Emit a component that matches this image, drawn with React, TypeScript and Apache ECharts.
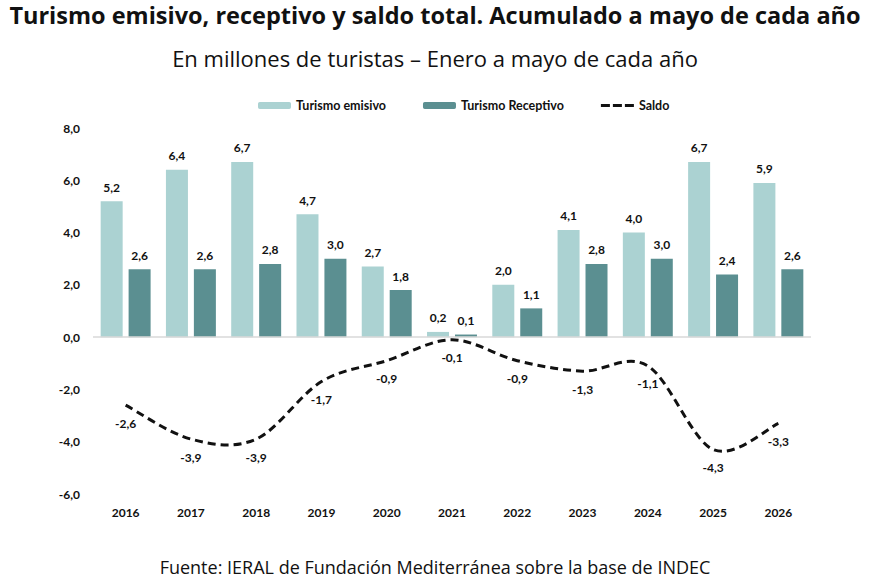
import React, { useEffect, useRef } from "react";
import * as echarts from "echarts";

const years = ["2016", "2017", "2018", "2019", "2020", "2021", "2022", "2023", "2024", "2025", "2026"];
const emisivo = [5.2, 6.4, 6.7, 4.7, 2.7, 0.2, 2.0, 4.1, 4.0, 6.7, 5.9];
const receptivo = [2.6, 2.6, 2.8, 3.0, 1.8, 0.1, 1.1, 2.8, 3.0, 2.4, 2.6];
const saldo = [-2.6, -3.9, -3.9, -1.7, -0.9, -0.1, -0.9, -1.3, -1.1, -4.3, -3.3];

const fmt = (v: number) => v.toFixed(1).replace(".", ",");
const chartFont = "Lato, 'Open Sans', sans-serif";
const titleFont = "'Open Sans', 'Noto Sans', sans-serif";

// Catmull-Rom spline through the projected points, written as cubic Bezier segments
function splinePath(pts: number[][]): string {
  let d = `M${pts[0][0]},${pts[0][1]}`;
  for (let i = 0; i < pts.length - 1; i++) {
    const p0 = pts[i - 1] || pts[i];
    const p1 = pts[i];
    const p2 = pts[i + 1];
    const p3 = pts[i + 2] || pts[i + 1];
    const c1x = p1[0] + (p2[0] - p0[0]) / 6;
    const c1y = p1[1] + (p2[1] - p0[1]) / 6;
    const c2x = p2[0] - (p3[0] - p1[0]) / 6;
    const c2y = p2[1] - (p3[1] - p1[1]) / 6;
    d += ` C${c1x},${c1y} ${c2x},${c2y} ${p2[0]},${p2[1]}`;
  }
  return d;
}

export default function App() {
  const ref = useRef<HTMLDivElement>(null);

  useEffect(() => {
    if (!ref.current) return;
    const chart = echarts.init(ref.current, undefined, { renderer: "svg" });
    const barLabel = {
      show: true,
      position: "top",
      distance: 8,
      fontWeight: "bold",
      fontSize: 12,
      color: "#111",
      formatter: (p: any) => fmt(p.value),
    };
    chart.setOption({
      animation: false,
      backgroundColor: "#ffffff",
      textStyle: { fontFamily: chartFont },
      title: [
        {
          text: "Turismo emisivo, receptivo y saldo total. Acumulado a mayo de cada año",
          left: "center",
          top: -2,
          textStyle: { fontFamily: titleFont, fontWeight: "bold", fontSize: 23.5, color: "#111" },
        },
        {
          text: "En millones de turistas – Enero a mayo de cada año",
          left: "center",
          top: 42,
          textStyle: { fontFamily: titleFont, fontWeight: "normal", fontSize: 22, color: "#111" },
        },
        {
          text: "Fuente: IERAL de Fundación Mediterránea sobre la base de INDEC",
          left: "center",
          top: 553,
          textStyle: { fontFamily: titleFont, fontWeight: "normal", fontSize: 18, color: "#111" },
        },
      ],
      legend: {
        left: 253,
        top: 94,
        itemWidth: 33,
        itemHeight: 7,
        itemGap: 37,
        textStyle: { fontFamily: chartFont, fontWeight: "bold", fontSize: 12.5, color: "#111" },
        data: [
          { name: "Turismo emisivo" },
          { name: "Turismo Receptivo" },
          {
            name: "Saldo",
            icon: "path://M0,0L0.01,0L0,7Z M0,2h9v3h-9z M12,2h9v3h-9z M24,2h9v3h-9z",
            itemStyle: { color: "#111" },
          },
        ],
      },
      grid: { left: 93, right: 59, top: 128, bottom: 86 },
      xAxis: {
        type: "category",
        data: years,
        axisLine: { show: false, onZero: false },
        axisTick: { show: false },
        axisLabel: { margin: 12, fontWeight: "bold", fontSize: 12, color: "#111" },
      },
      yAxis: {
        type: "value",
        min: -6,
        max: 8,
        interval: 2,
        splitLine: { show: false },
        axisLabel: { margin: 13, fontWeight: "bold", fontSize: 12, color: "#111", formatter: fmt },
      },
      series: [
        {
          name: "Turismo emisivo",
          type: "bar",
          data: emisivo,
          barWidth: 22,
          barGap: "27%",
          itemStyle: { color: "#abd2d2" },
          label: barLabel,
          markLine: {
            silent: true,
            symbol: "none",
            label: { show: false },
            lineStyle: { color: "#d9d9d9", width: 1.5, type: "solid" },
            data: [{ yAxis: 0 }],
          },
          z: 2,
        },
        {
          name: "Turismo Receptivo",
          type: "bar",
          data: receptivo,
          barWidth: 22,
          itemStyle: { color: "#5b8f91" },
          label: barLabel,
          z: 2,
        },
        {
          name: "Saldo",
          type: "custom",
          data: saldo.map((v, i) => [i, v]),
          encode: { x: 0, y: 1 },
          itemStyle: { color: "#111" },
          z: 3,
          renderItem: (params: any, api: any) => {
            const i = params.dataIndex;
            const pt = api.coord([i, saldo[i]]);
            const children: any[] = [
              {
                type: "text",
                x: pt[0],
                y: pt[1] + 18,
                style: {
                  text: fmt(saldo[i]),
                  fill: "#111",
                  font: `bold 12px ${chartFont}`,
                  align: "center",
                  verticalAlign: "middle",
                },
                z2: 5,
              },
            ];
            if (i === 0) {
              const pts = saldo.map((v, k) => api.coord([k, v]));
              children.push({
                type: "path",
                shape: { pathData: splinePath(pts) },
                style: { stroke: "#111", lineWidth: 3, lineDash: [8, 5], fill: "none" },
              });
            }
            return { type: "group", children };
          },
        },
      ],
    });
    return () => chart.dispose();
  }, []);

  return (
    <div
      ref={ref}
      style={{ position: "fixed", left: 0, top: 0, width: 870, height: 580, background: "#fff" }}
    />
  );
}
